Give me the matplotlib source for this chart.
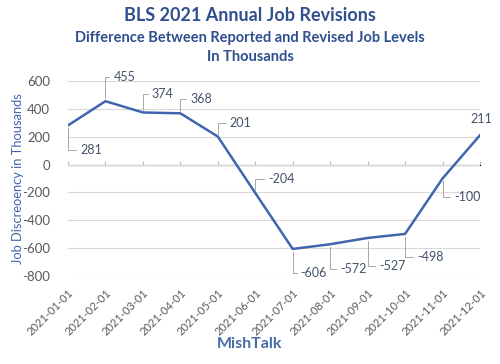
import numpy as np
import matplotlib
matplotlib.use("Agg")
import matplotlib.pyplot as plt

plt.rcParams['font.family'] = ['Lato', 'DejaVu Sans']

# Data
months = ["2021-01-01", "2021-02-01", "2021-03-01", "2021-04-01", "2021-05-01", "2021-06-01",
          "2021-07-01", "2021-08-01", "2021-09-01", "2021-10-01", "2021-11-01", "2021-12-01"]
revisions = [281, 455, 374, 368, 201, -204, -606, -572, -527, -498, -100, 211]
yticks = [600, 400, 200, 0, -200, -400, -600, -800]

# label offsets in pixels (dx to left edge of label, dy to label centre)
label_offsets = [(12, -25), (8, 24), (9, 18), (10, 14), (12, 14), (13, 14),
                 (8, -24), (10, -25), (12, -28), (12, -23), (12, -19), (1, 16)]

line_col = "#4065AE"
title_col = "#2F4F8F"
grey = "#595959"

fig = plt.figure(figsize=(5, 3.64), dpi=100)
ax = fig.add_axes([0.136, 0.2418, 0.824, 0.5357])

x = np.arange(len(months))
ax.plot(x, revisions, color=line_col, lw=1.8, zorder=3)

ax.set_xlim(0, len(months) - 1)
ax.set_ylim(-800, 600)
ax.set_yticks(yticks)
ax.set_yticklabels([str(v) for v in yticks], color=grey, fontsize=9.5)
ax.grid(axis='y', color="#D9D9D9", lw=0.8)
ax.set_axisbelow(True)
for s in ax.spines.values():
    s.set_visible(False)
ax.tick_params(axis='y', length=0, pad=13)

ax.set_xticks(x)
ax.set_xticklabels(months, rotation=45, ha='right', rotation_mode='anchor',
                   color=grey, fontsize=8)
ax.tick_params(axis='x', length=0, pad=8)

# tick marks on the zero line
zero_ax = ax.secondary_xaxis(800 / 1400)
zero_ax.set_xticks(x)
zero_ax.set_xticklabels([])
zero_ax.tick_params(length=3, color="#BFBFBF", direction='out')
zero_ax.spines['bottom'].set_color("#BFBFBF")
zero_ax.spines['bottom'].set_linewidth(0.8)

# data labels with elbow leader lines
for xi, v, (dx, dy) in zip(x, revisions, label_offsets):
    if xi == len(months) - 1:
        ax.annotate(str(v), (xi, v), xytext=(dx, dy), textcoords='offset pixels',
                    ha='center', va='center', color="#44546A", fontsize=9)
        continue
    ax.annotate(str(v), (xi, v), xytext=(dx, dy), textcoords='offset pixels',
                ha='left', va='center', color="#44546A", fontsize=9,
                arrowprops=dict(arrowstyle='-', color="#A6A6A6", lw=0.7,
                                shrinkA=1, shrinkB=2,
                                connectionstyle="angle,angleA=0,angleB=90,rad=0"))

ax.set_ylabel("Job Discreoency in Thousands", color=line_col, fontsize=9.3)
ax.yaxis.set_label_coords(-0.108, 0.5)

fig.text(0.5, 0.958, "BLS 2021 Annual Job Revisions", ha='center', va='center',
         color=title_col, fontsize=13, fontweight='bold')
fig.text(0.5, 0.895, "Difference Between Reported and Revised Job Levels", ha='center',
         va='center', color=title_col, fontsize=10.5, fontweight='bold')
fig.text(0.5, 0.843, "In Thousands", ha='center', va='center',
         color=title_col, fontsize=10.5, fontweight='bold')
fig.text(0.5, 0.055, "MishTalk", ha='center', va='center',
         color="#4A6BAA", fontsize=11.5, fontweight='bold')

fig.savefig("out.png", dpi=100)
